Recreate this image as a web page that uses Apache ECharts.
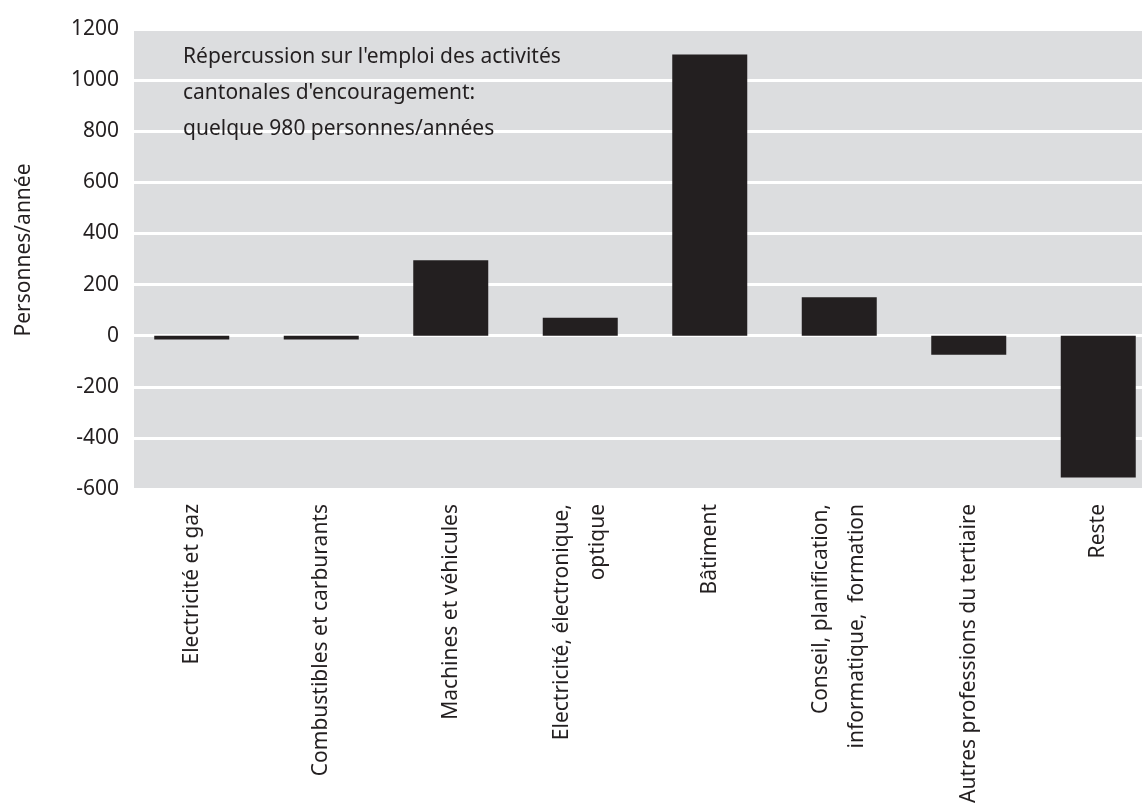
<!DOCTYPE html>
<html>
<head>
<meta charset="utf-8">
<script src="https://cdn.jsdelivr.net/npm/echarts@6/dist/echarts.min.js"></script>
<style>
  html, body { margin: 0; padding: 0; background: #fff; }
  #chart { width: 1142px; height: 810px; }
</style>
</head>
<body>
<div id="chart"></div>
<script>
// ---- Data ----
const categories = [
  'Electricité et gaz',
  'Combustibles et carburants',
  'Machines et véhicules',
  'Electricité, électronique,\noptique',
  'Bâtiment',
  'Conseil, planification,\ninformatique,  formation',
  'Autres professions du tertiaire',
  'Reste'
];
const jobs = [-15, -15, 295, 70, 1100, 150, -75, -555];
const yMin = -600;
const yMax = 1200;
const yStep = 200;
const note = "Répercussion sur l'emploi des activités\ncantonales d'encouragement:\nquelque 980 personnes/années";

const ink = '#231f20';
const font = '"Noto Sans", "Open Sans", sans-serif';
const fs = 21;

document.addEventListener('DOMContentLoaded', () => {
  const chart = echarts.init(document.getElementById('chart'));

  const option = {
    animation: false,
    textStyle: { fontFamily: font, color: ink },
    title: {
      text: note,
      left: 178,
      top: 34,
      textStyle: { fontFamily: font, fontSize: fs, fontWeight: 'normal', color: ink, lineHeight: 36 }
    },
    grid: [
      // grey plot background
      { left: 134, right: 0, top: 29, bottom: 321, show: true, backgroundColor: '#dcdddf', borderWidth: 0, outerBoundsMode: 'none' },
      // bars and axes (extends past the right edge like the original)
      { left: 127, width: 1036, top: 29, bottom: 321, outerBoundsMode: 'none' }
    ],
    xAxis: [
      { gridIndex: 0, type: 'category', show: false, data: categories },
      {
        gridIndex: 1,
        type: 'category',
        data: categories,
        axisLine: { show: false },
        axisTick: { show: false },
        axisLabel: {
          rotate: 90,
          interval: 0,
          margin: 15,
          fontFamily: font,
          fontSize: fs,
          lineHeight: 36,
          color: ink
        }
      }
    ],
    yAxis: [
      { gridIndex: 0, type: 'value', show: false, min: yMin, max: yMax },
      {
        gridIndex: 1,
        type: 'value',
        min: yMin,
        max: yMax,
        interval: yStep,
        name: 'Personnes/année',
        nameLocation: 'middle',
        nameRotate: 90,
        nameGap: 92,
        nameTextStyle: { fontFamily: font, fontSize: fs, color: ink, padding: [0, 0, 0, 18] },
        axisLine: { show: false },
        axisTick: { show: false },
        axisLabel: {
          margin: 8,
          fontFamily: font,
          fontSize: fs,
          color: ink,
          formatter: v => String(v)
        },
        splitLine: { show: true, lineStyle: { color: '#ffffff', width: 3 } }
      }
    ],
    series: [
      {
        type: 'bar',
        xAxisIndex: 1,
        yAxisIndex: 1,
        data: jobs,
        barWidth: 75,
        itemStyle: { color: ink }
      }
    ]
  };

  chart.setOption(option);
  window.addEventListener('resize', () => chart.resize());
});
</script>
</body>
</html>
